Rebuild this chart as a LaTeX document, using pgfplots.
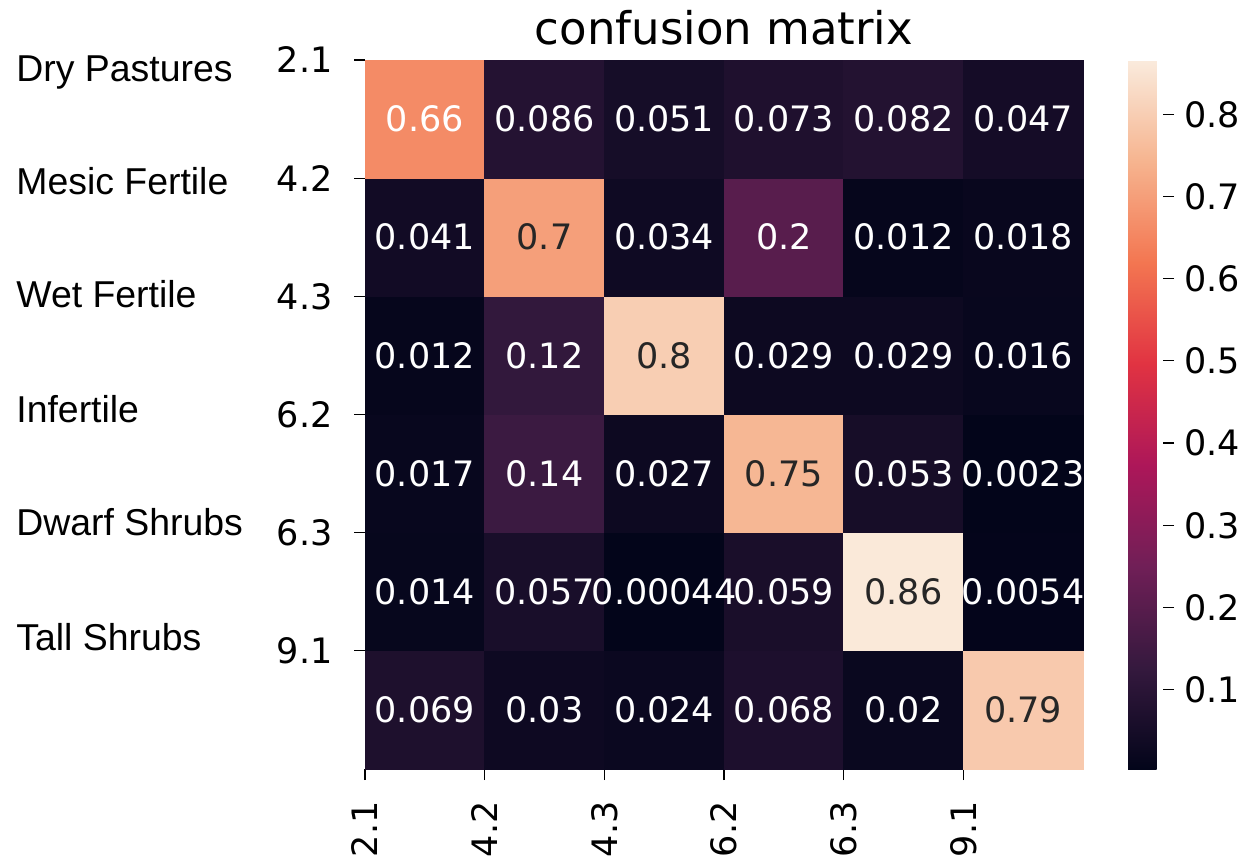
\documentclass[border=0pt]{standalone}
\usepackage{pgfplots}
\pgfplotsset{compat=1.18}
\usepackage{fontspec}
\setmainfont{DejaVu Sans}
\newfontfamily\arialfont{Liberation Sans}
\pgfplotsset{/pgf/number format/assume math mode=true}

\pgfplotstableread{
x y v
0 0 0.069
1 0 0.03
2 0 0.024
3 0 0.068
4 0 0.02
5 0 0.79
0 1 0.014
1 1 0.057
2 1 0.00044
3 1 0.059
4 1 0.86
5 1 0.0054
0 2 0.017
1 2 0.14
2 2 0.027
3 2 0.75
4 2 0.053
5 2 0.0023
0 3 0.012
1 3 0.12
2 3 0.8
3 3 0.029
4 3 0.029
5 3 0.016
0 4 0.041
1 4 0.7
2 4 0.034
3 4 0.2
4 4 0.012
5 4 0.018
0 5 0.66
1 5 0.086
2 5 0.051
3 5 0.073
4 5 0.082
5 5 0.047
}\cm

\pgfplotstableread{
x y l
0 0 0.069
1 0 0.03
2 0 0.024
3 0 0.068
4 0 0.02
0 1 0.014
1 1 0.057
2 1 0.00044
3 1 0.059
5 1 0.0054
0 2 0.017
1 2 0.14
2 2 0.027
4 2 0.053
5 2 0.0023
0 3 0.012
1 3 0.12
3 3 0.029
4 3 0.029
5 3 0.016
0 4 0.041
2 4 0.034
3 4 0.2
4 4 0.012
5 4 0.018
0 5 0.66
1 5 0.086
2 5 0.051
3 5 0.073
4 5 0.082
5 5 0.047
}\lightlabels

\pgfplotstableread{
x y l
5 0 0.79
4 1 0.86
3 2 0.75
2 3 0.8
1 4 0.7
}\darklabels

\definecolor{darktext}{RGB}{38,38,38}

\begin{document}
\begin{tikzpicture}
\path[use as bounding box] (0,0) rectangle (621.5pt,431.5pt);
\begin{axis}[
  at={(182.5pt,47pt)}, anchor=south west,
  scale only axis, width=359pt, height=354.5pt,
  xmin=-0.5, xmax=5.5, ymin=-0.5, ymax=5.5,
  enlargelimits=false, clip=false,
  xtick={-0.5,0.5,1.5,2.5,3.5,4.5},
  xticklabels={2.1,4.2,4.3,6.2,6.3,9.1},
  ytick={0.5,1.5,2.5,3.5,4.5,5.5},
  yticklabels={9.1,6.3,6.2,4.3,4.2,2.1},
  tick pos=left, tick align=outside, major tick length=5.5pt,
  tick style={black, line width=0.6pt},
  axis line style={draw=none},
  ticklabel style={font=\fontsize{17.5}{20}\selectfont, inner sep=0pt},
  xticklabel style={rotate=90, anchor=east},
  xticklabel shift=10.5pt,
  yticklabel shift=10.5pt,
  colormap={rocket}{rgb255=(3,5,26) rgb255=(53,25,62) rgb255=(112,31,87) rgb255=(173,23,89) rgb255=(225,51,66) rgb255=(243,118,81) rgb255=(246,180,143) rgb255=(250,235,221)},
  point meta min=0.0035, point meta max=0.866,
  colorbar,
  colorbar style={
    at={(parent axis.north east)}, anchor=north west, xshift=14pt,
    width=17.5pt,
    ytick={0.1,0.2,0.3,0.4,0.5,0.6,0.7,0.8},
    tick pos=right,
    yticklabel style={font=\fontsize{17.5}{20}\selectfont, inner sep=0pt, /pgf/number format/fixed, /pgf/number format/precision=1},
    yticklabel shift=5pt,
    tick align=outside, major tick length=5.5pt,
    tick style={black, line width=0.6pt},
    axis line style={draw=none},
  },
]
\addplot[matrix plot*, mesh/cols=6, point meta=explicit] table[x=x, y=y, meta=v] {\cm};
\addplot[only marks, mark=none, point meta=explicit symbolic, nodes near coords,
  nodes near coords style={anchor=center, text=white, font=\fontsize{17.5}{20}\selectfont, inner sep=0pt}]
  table[x=x, y=y, meta=l] {\lightlabels};
\addplot[only marks, mark=none, point meta=explicit symbolic, nodes near coords,
  nodes near coords style={anchor=center, text=darktext, font=\fontsize{17.5}{20}\selectfont, inner sep=0pt}]
  table[x=x, y=y, meta=l] {\darklabels};
\end{axis}
\node[anchor=base, font=\fontsize{22.5}{26}\selectfont] at (362pt,409pt) {confusion matrix};
\begin{scope}[every node/.style={anchor=base west, inner sep=0pt, font=\arialfont\fontsize{18.7}{22}\selectfont}]
\node at (8pt,390.5pt) {Dry Pastures};
\node at (8pt,334pt) {Mesic Fertile};
\node at (8pt,277.5pt) {Wet Fertile};
\node at (8pt,220pt) {Infertile};
\node at (8pt,163.5pt) {Dwarf Shrubs};
\node at (8pt,106.5pt) {Tall Shrubs};
\end{scope}
\end{tikzpicture}
\end{document}
